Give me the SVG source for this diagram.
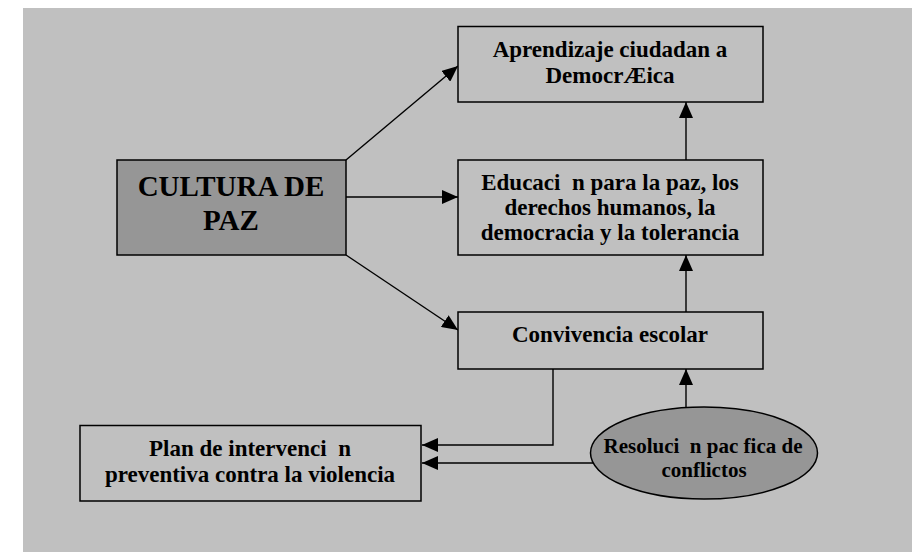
<svg xmlns="http://www.w3.org/2000/svg" width="912" height="552" viewBox="0 0 912 552">
<style>
.box{fill:#C0C0C0;stroke:#000;stroke-width:1.5}
.dark{fill:#969696;stroke:#000;stroke-width:1.5}
.t{font-family:"Liberation Serif","Times New Roman",serif;font-weight:bold;font-size:23px;fill:#000;text-anchor:middle;white-space:pre}
.big{font-size:29px}
.sm{font-size:21px}
.c{fill:none;stroke:#000;stroke-width:1.4}
</style>
<defs>
<marker id="ah" viewBox="0 0 16 14" markerWidth="16" markerHeight="14" refX="16" refY="7" orient="auto" markerUnits="userSpaceOnUse">
<path d="M0,0 L16,7 L0,14 z" fill="#000"/>
</marker>
</defs>
<rect x="0" y="0" width="912" height="552" fill="#fff"/>
<rect x="23" y="8" width="889" height="544" fill="#C0C0C0"/>
<g id="connectors">
<line class="c" x1="346" y1="160" x2="458" y2="66" marker-end="url(#ah)"/>
<line class="c" x1="346" y1="197" x2="458" y2="197" marker-end="url(#ah)"/>
<line class="c" x1="346" y1="255" x2="458" y2="330" marker-end="url(#ah)"/>
<line class="c" x1="686" y1="160" x2="686" y2="102" marker-end="url(#ah)"/>
<line class="c" x1="686" y1="312" x2="686" y2="255" marker-end="url(#ah)"/>
<line class="c" x1="686" y1="407.5" x2="686" y2="369" marker-end="url(#ah)"/>
<path class="c" d="M553,369 V445 H422" marker-end="url(#ah)"/>
<line class="c" x1="593" y1="463" x2="422" y2="463" marker-end="url(#ah)"/>
</g>
<g id="aprendizaje">
<rect class="box" x="458" y="26.5" width="305" height="75.5"/>
<text class="t" x="610" y="57">Aprendizaje ciudadan a</text>
<text class="t" x="610" y="83">DemocrÆica</text>
</g>
<g id="cultura">
<rect class="dark" x="117" y="160" width="229" height="95"/>
<text class="t big" x="231" y="196">CULTURA DE</text>
<text class="t big" x="231" y="230">PAZ</text>
</g>
<g id="educacion">
<rect class="box" x="458" y="160" width="305" height="95"/>
<text class="t" x="610" y="190">Educaci  n para la paz, los</text>
<text class="t" x="610" y="215">derechos humanos, la</text>
<text class="t" x="610" y="240">democracia y la tolerancia</text>
</g>
<g id="convivencia">
<rect class="box" x="458" y="312" width="305" height="57"/>
<text class="t" x="610" y="342">Convivencia escolar</text>
</g>
<g id="plan">
<rect class="box" x="80" y="425.5" width="341" height="75.5"/>
<text class="t" x="250" y="456">Plan de intervenci  n</text>
<text class="t" x="250" y="482">preventiva contra la violencia</text>
</g>
<g id="resolucion">
<ellipse class="dark" cx="704" cy="453" rx="113.5" ry="46"/>
<text class="t sm" x="703" y="453">Resoluci  n pac fica de</text>
<text class="t sm" x="704" y="477">conflictos</text>
</g>
</svg>
